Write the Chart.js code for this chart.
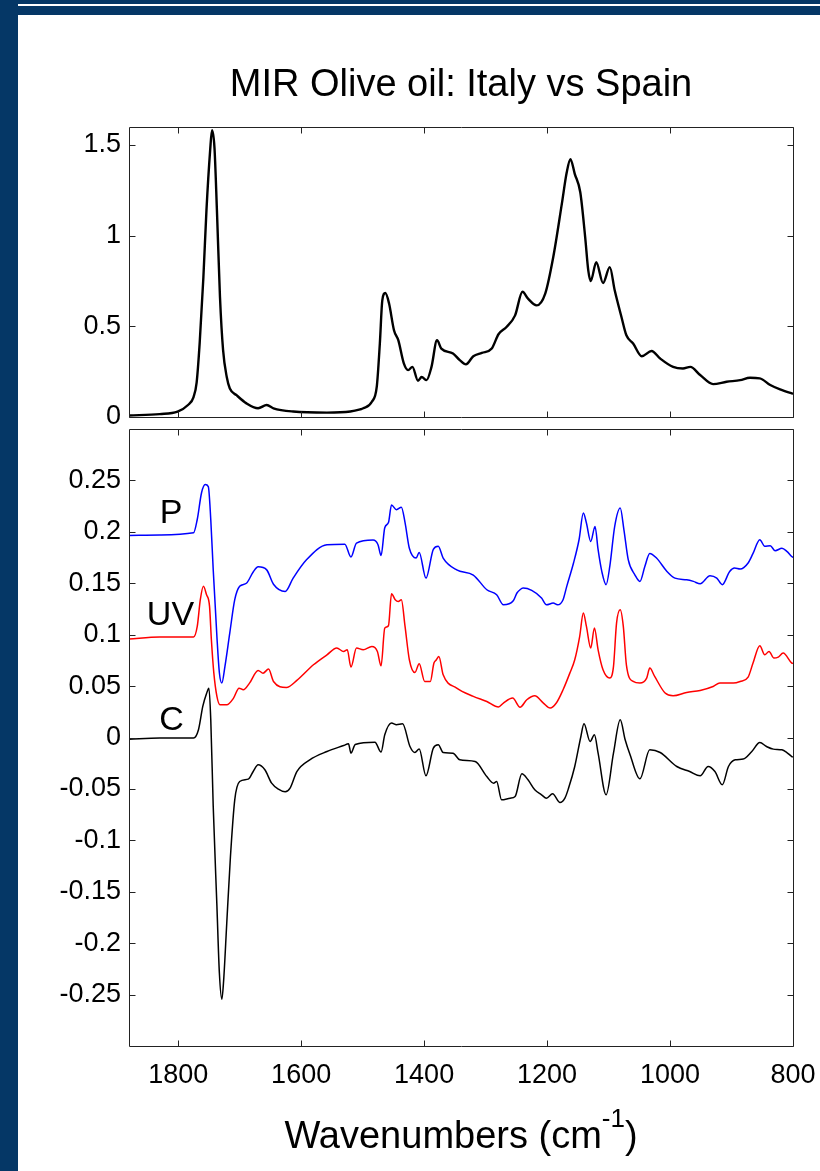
<!DOCTYPE html>
<html>
<head>
<meta charset="utf-8">
<script src="https://cdn.jsdelivr.net/npm/chart.js@4.4.1/dist/chart.umd.min.js"></script>
<style>
  html, body { margin: 0; padding: 0; background: #fff; }
  #page { position: relative; width: 820px; height: 1171px; overflow: hidden; background: #fff; }
  .bar { position: absolute; background: #053766; }
  canvas { position: absolute; left: 0; top: 0; }
</style>
</head>
<body>
<div id="page">
  <div class="bar" style="left:0;top:0;width:820px;height:4px"></div>
  <div class="bar" style="left:0;top:6px;width:820px;height:9px"></div>
  <div class="bar" style="left:0;top:0;width:18px;height:1171px"></div>
  <canvas id="graficoMedia" width="820" height="1171"></canvas>
  <canvas id="graficoDif" width="820" height="1171"></canvas>
</div>
<script>
// --- dados ---
// espectro medio (painel de cima)
const mediaWn = [1880, 1830, 1801, 1784, 1775, 1770, 1765, 1759, 1754, 1748, 1745, 1741, 1737, 1732, 1727, 1721, 1716, 1705, 1689, 1670, 1656, 1645, 1613, 1558, 1520, 1504, 1499, 1485, 1477, 1472, 1468, 1463, 1457, 1449, 1442, 1433, 1426, 1419, 1410, 1404, 1396, 1388, 1379, 1372, 1353, 1342, 1332, 1320, 1306, 1290, 1279, 1266, 1252, 1240, 1231, 1217, 1203, 1190, 1176, 1168, 1162, 1155, 1146, 1138, 1133, 1129, 1120, 1109, 1098, 1090, 1079, 1071, 1060, 1046, 1030, 1016, 995, 979, 967, 951, 930, 908, 886, 870, 854, 837, 821, 802, 800];
const mediaAbs = [0.008, 0.016, 0.03, 0.066, 0.11, 0.19, 0.41, 0.77, 1.14, 1.47, 1.58, 1.485, 1.14, 0.66, 0.37, 0.22, 0.157, 0.12, 0.075, 0.048, 0.066, 0.048, 0.03, 0.024, 0.03, 0.042, 0.048, 0.084, 0.167, 0.405, 0.643, 0.683, 0.625, 0.478, 0.423, 0.295, 0.258, 0.276, 0.2, 0.22, 0.203, 0.276, 0.423, 0.377, 0.35, 0.313, 0.29, 0.335, 0.353, 0.377, 0.456, 0.496, 0.56, 0.69, 0.652, 0.615, 0.68, 0.88, 1.174, 1.348, 1.42, 1.34, 1.238, 0.99, 0.808, 0.749, 0.853, 0.738, 0.826, 0.698, 0.551, 0.45, 0.405, 0.335, 0.364, 0.322, 0.276, 0.267, 0.276, 0.231, 0.181, 0.194, 0.203, 0.216, 0.213, 0.176, 0.152, 0.13, 0.128];

// curva P (azul)
const pWn = [1880, 1830, 1775, 1769, 1762, 1756, 1751, 1747, 1743, 1737, 1733, 1729, 1724, 1716, 1708, 1700, 1689, 1678, 1670, 1656, 1645, 1626, 1613, 1591, 1558, 1529, 1519, 1510, 1483, 1475, 1470, 1464, 1458, 1453, 1445, 1437, 1431, 1424, 1413, 1408, 1397, 1385, 1377, 1369, 1347, 1320, 1298, 1282, 1271, 1255, 1249, 1244, 1239, 1225, 1209, 1201, 1190, 1183, 1174, 1168, 1157, 1148, 1141, 1136, 1129, 1122, 1117, 1111, 1104, 1098, 1090, 1081, 1075, 1068, 1057, 1049, 1041, 1033, 1022, 1005, 992, 973, 962, 951, 935, 924, 915, 903, 895, 886, 873, 865, 854, 846, 837, 829, 818, 810, 802, 800];
const pVal = [0.1965, 0.197, 0.199, 0.212, 0.238, 0.246, 0.244, 0.212, 0.163, 0.098, 0.063, 0.053, 0.069, 0.102, 0.134, 0.147, 0.15, 0.161, 0.166, 0.163, 0.149, 0.142, 0.155, 0.173, 0.1875, 0.188, 0.1755, 0.189, 0.192, 0.1875, 0.177, 0.204, 0.209, 0.226, 0.2215, 0.224, 0.209, 0.184, 0.1745, 0.18, 0.155, 0.183, 0.186, 0.1745, 0.163, 0.158, 0.1437, 0.1388, 0.129, 0.133, 0.1405, 0.1437, 0.1453, 0.143, 0.1356, 0.129, 0.1307, 0.129, 0.134, 0.147, 0.1697, 0.1923, 0.2183, 0.2086, 0.1907, 0.2053, 0.1826, 0.1615, 0.1486, 0.1663, 0.2053, 0.2231, 0.202, 0.173, 0.158, 0.1518, 0.1663, 0.179, 0.1745, 0.1615, 0.155, 0.1534, 0.1518, 0.1495, 0.1573, 0.155, 0.1486, 0.1615, 0.1648, 0.1638, 0.1697, 0.179, 0.1923, 0.186, 0.1865, 0.1816, 0.184, 0.181, 0.176, 0.175];

// curva UV (vermelha)
const uvWn = [1880, 1830, 1775, 1769, 1764, 1759, 1754, 1749, 1746, 1742, 1737, 1732, 1721, 1710, 1701, 1694, 1684, 1670, 1662, 1653, 1645, 1624, 1607, 1580, 1558, 1542, 1531, 1525, 1519, 1510, 1499, 1485, 1476, 1470, 1464, 1458, 1453, 1447, 1442, 1437, 1431, 1424, 1415, 1408, 1399, 1390, 1384, 1380, 1376, 1369, 1347, 1320, 1298, 1279, 1271, 1256, 1244, 1233, 1220, 1206, 1195, 1185, 1174, 1163, 1155, 1147, 1141, 1136, 1129, 1123, 1117, 1109, 1098, 1092, 1087, 1081, 1076, 1071, 1060, 1049, 1038, 1033, 1025, 1008, 995, 973, 951, 930, 919, 897, 886, 873, 865, 854, 846, 839, 831, 824, 816, 802, 800];
const uvVal = [0.0957, 0.0977, 0.0977, 0.108, 0.134, 0.147, 0.139, 0.1275, 0.095, 0.0626, 0.04, 0.0318, 0.0318, 0.0383, 0.048, 0.0464, 0.0529, 0.0652, 0.0626, 0.0665, 0.0545, 0.0486, 0.0555, 0.0707, 0.0804, 0.087, 0.0837, 0.0853, 0.0685, 0.087, 0.0853, 0.0885, 0.0837, 0.0697, 0.1064, 0.1087, 0.1398, 0.134, 0.1323, 0.134, 0.108, 0.0756, 0.0632, 0.0717, 0.0545, 0.0545, 0.0724, 0.0756, 0.0788, 0.061, 0.048, 0.04, 0.035, 0.0296, 0.0335, 0.0383, 0.0294, 0.0367, 0.0406, 0.0335, 0.0286, 0.0335, 0.0464, 0.0626, 0.0756, 0.0982, 0.121, 0.108, 0.087, 0.1064, 0.0853, 0.0659, 0.0578, 0.069, 0.1113, 0.1242, 0.108, 0.0707, 0.0545, 0.0529, 0.0578, 0.0675, 0.0594, 0.0432, 0.0406, 0.0438, 0.0457, 0.0496, 0.0529, 0.0529, 0.0545, 0.0588, 0.0724, 0.0892, 0.0804, 0.0837, 0.0772, 0.0782, 0.0821, 0.0724, 0.072];

// curva C (preta)
const cWn = [1880, 1830, 1775, 1767, 1760, 1754, 1750, 1747, 1743, 1737, 1733, 1729, 1726, 1721, 1715, 1708, 1700, 1686, 1678, 1670, 1659, 1648, 1637, 1626, 1618, 1607, 1586, 1558, 1531, 1523, 1519, 1512, 1480, 1470, 1464, 1453, 1445, 1435, 1423, 1415, 1408, 1397, 1385, 1377, 1369, 1353, 1342, 1317, 1298, 1287, 1282, 1274, 1260, 1252, 1241, 1231, 1220, 1209, 1201, 1191, 1179, 1171, 1165, 1155, 1145, 1140, 1130, 1123, 1117, 1104, 1092, 1081, 1073, 1065, 1049, 1033, 1016, 989, 968, 951, 938, 927, 915, 905, 894, 881, 867, 854, 843, 832, 818, 810, 802, 800];
const cVal = [-0.0016, -0.0006, -0.0006, 0.0075, 0.0302, 0.0425, 0.048, 0.0172, -0.067, -0.164, -0.229, -0.2545, -0.2357, -0.1806, -0.1158, -0.0606, -0.0428, -0.0405, -0.0331, -0.0266, -0.0314, -0.0444, -0.0502, -0.0528, -0.0492, -0.0331, -0.0217, -0.0136, -0.0078, -0.0061, -0.0152, -0.0068, -0.0045, -0.0142, 0.0026, 0.014, 0.0124, 0.0133, -0.0088, -0.0146, -0.0113, -0.0373, -0.0103, -0.0071, -0.0146, -0.0152, -0.0217, -0.0233, -0.038, -0.0444, -0.0428, -0.0606, -0.059, -0.0574, -0.0353, -0.0411, -0.0509, -0.0557, -0.059, -0.0548, -0.0632, -0.059, -0.0492, -0.0282, 0.001, 0.0133, -0.0039, 0.0026, -0.0152, -0.0557, -0.0152, 0.0172, -0.0022, -0.0168, -0.0402, -0.012, -0.0146, -0.0282, -0.0331, -0.0373, -0.0282, -0.0331, -0.046, -0.0282, -0.0217, -0.021, -0.0136, -0.0049, -0.0088, -0.0113, -0.012, -0.0146, -0.0185, -0.019];

// ticks
const xTicks = [1800, 1600, 1400, 1200, 1000, 800];
const yTicksMedia = [0, 0.5, 1, 1.5];
const yTicksDif = [-0.25, -0.2, -0.15, -0.1, -0.05, 0, 0.05, 0.1, 0.15, 0.2, 0.25];

const FONTE = "'Liberation Sans', Arial, Helvetica, sans-serif";
Chart.defaults.font.family = FONTE;
Chart.defaults.color = '#000';

const pares = (xs, ys) => xs.map((x, i) => ({ x: x, y: ys[i] }));
const fmt = v => String(Math.round(v * 100) / 100);

// moldura com ticks para dentro (estilo MATLAB)
const moldura = {
    id: 'moldura',
    afterDatasetsDraw(chart, args, opts) {
        const { ctx, chartArea: a, scales } = chart;
        const L = Math.round(a.left) + 0.5, R = Math.round(a.right) + 0.5;
        const T = Math.round(a.top) + 0.5, B = Math.round(a.bottom) + 0.5;
        const tl = 6;
        ctx.save();
        ctx.strokeStyle = '#222';
        ctx.lineWidth = 1;
        ctx.beginPath();
        ctx.rect(L, T, R - L, B - T);
        xTicks.forEach(v => {
            const px = Math.round(scales.x.getPixelForValue(v)) + 0.5;
            ctx.moveTo(px, B); ctx.lineTo(px, B - tl);
            ctx.moveTo(px, T); ctx.lineTo(px, T + tl);
        });
        opts.yTicks.forEach(v => {
            const py = Math.round(scales.y.getPixelForValue(v)) + 0.5;
            ctx.moveTo(L, py); ctx.lineTo(L + tl, py);
            ctx.moveTo(R, py); ctx.lineTo(R - tl, py);
        });
        ctx.stroke();
        ctx.restore();
    }
};

// rotulos P / UV / C e titulo do eixo x
const rotulos = {
    id: 'rotulos',
    afterDraw(chart) {
        const { ctx, chartArea: a, scales } = chart;
        ctx.save();
        ctx.fillStyle = '#000';
        ctx.textAlign = 'left';
        ctx.textBaseline = 'alphabetic';
        ctx.font = '34px ' + FONTE;
        [['P', 1830, 0.209], ['UV', 1851, 0.1096], ['C', 1831, 0.0075]].forEach(([t, x, y]) => {
            ctx.fillText(t, scales.x.getPixelForValue(x), scales.y.getPixelForValue(y));
        });

        // Wavenumbers (cm^-1)
        const base = 'Wavenumbers (cm', sup = '-1', fim = ')';
        const fMain = '38px ' + FONTE, fSup = '26px ' + FONTE;
        ctx.font = fMain;
        const w1 = ctx.measureText(base).width, w3 = ctx.measureText(fim).width;
        ctx.font = fSup;
        const w2 = ctx.measureText(sup).width;
        const cx = (a.left + a.right) / 2;
        let x = cx - (w1 + w2 + w3) / 2;
        const y = 1148;
        ctx.font = fMain; ctx.fillText(base, x, y); x += w1;
        ctx.font = fSup; ctx.fillText(sup, x, y - 21); x += w2;
        ctx.font = fMain; ctx.fillText(fim, x, y);
        ctx.restore();
    }
};

const eixoX = (mostra) => ({
    type: 'linear',
    reverse: true,
    min: 800,
    max: 1880,
    display: mostra,
    grid: { display: false, drawTicks: false },
    border: { display: false },
    ticks: { font: { size: 27 }, padding: 13, maxRotation: 0, autoSkip: false, color: '#000', callback: v => String(v) },
    afterBuildTicks: s => { s.ticks = xTicks.map(v => ({ value: v })); },
    afterFit: s => {
        s.height = mostra ? 60 : 0;
        s.paddingLeft = 0;
        s.paddingRight = 0;
    }
});

const eixoY = (min, max, ticks) => ({
    min: min,
    max: max,
    grid: { display: false, drawTicks: false },
    border: { display: false },
    ticks: { font: { size: 27 }, padding: 8, color: '#000', callback: v => fmt(v) },
    afterBuildTicks: s => { s.ticks = ticks.map(v => ({ value: v })); },
    afterFit: s => { s.width = 129; }
});

// --- 1. espectro medio ---
new Chart(document.getElementById('graficoMedia'), {
    type: 'line',
    data: {
        datasets: [{
            label: 'Media',
            data: pares(mediaWn, mediaAbs),
            borderColor: '#000',
            borderWidth: 2.4,
            pointRadius: 0,
            cubicInterpolationMode: 'monotone'
        }]
    },
    options: {
        responsive: false,
        animation: false,
        devicePixelRatio: 1,
        layout: { padding: { left: 0, right: 27, top: 0, bottom: 754 } },
        plugins: {
            legend: { display: false },
            tooltip: { enabled: false },
            title: {
                display: true,
                text: 'MIR Olive oil: Italy vs Spain',
                fullSize: false,
                color: '#000',
                font: { size: 38, weight: 'normal' },
                padding: { top: 63, bottom: 18 }
            },
            moldura: { yTicks: yTicksMedia }
        },
        scales: { x: eixoX(false), y: eixoY(0, 1.6, yTicksMedia) }
    },
    plugins: [moldura]
});

// --- 2. diferencas P / UV / C ---
new Chart(document.getElementById('graficoDif'), {
    type: 'line',
    data: {
        datasets: [
            { label: 'P', data: pares(pWn, pVal), borderColor: '#0000ff', borderWidth: 1.5, pointRadius: 0, cubicInterpolationMode: 'monotone' },
            { label: 'UV', data: pares(uvWn, uvVal), borderColor: '#ff0000', borderWidth: 1.5, pointRadius: 0, cubicInterpolationMode: 'monotone' },
            { label: 'C', data: pares(cWn, cVal), borderColor: '#000', borderWidth: 1.5, pointRadius: 0, cubicInterpolationMode: 'monotone' }
        ]
    },
    options: {
        responsive: false,
        animation: false,
        devicePixelRatio: 1,
        layout: { padding: { left: 0, right: 27, top: 429, bottom: 65 } },
        plugins: {
            legend: { display: false },
            tooltip: { enabled: false },
            moldura: { yTicks: yTicksDif }
        },
        scales: { x: eixoX(true), y: eixoY(-0.3, 0.3, yTicksDif) }
    },
    plugins: [moldura, rotulos]
});
</script>
</body>
</html>
